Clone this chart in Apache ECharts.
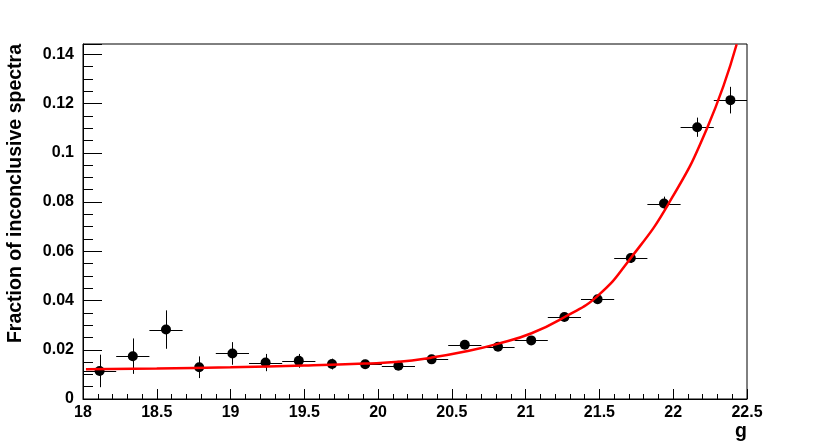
<!DOCTYPE html>
<html>
<head>
<meta charset="utf-8">
<script src="https://cdn.jsdelivr.net/npm/echarts@6/dist/echarts.min.js"></script>
<style>
html,body{margin:0;padding:0;background:#fff;}
#chart{width:830px;height:444px;}
</style>
</head>
<body>
<div id="chart"></div>
<script>
// Bin centers (g) and measured fraction of inconclusive spectra
const binCenters = [18.1125, 18.3375, 18.5625, 18.7875, 19.0125, 19.2375, 19.4625, 19.6875, 19.9125, 20.1375,
                    20.3625, 20.5875, 20.8125, 21.0375, 21.2625, 21.4875, 21.7125, 21.9375, 22.1625, 22.3875];
const fraction = [0.0114, 0.0174, 0.0282, 0.0129, 0.0185, 0.0148, 0.0155, 0.0142, 0.0141, 0.0135,
                  0.0161, 0.0220, 0.0212, 0.0238, 0.0333, 0.0405, 0.0573, 0.0794, 0.1104, 0.1214];
const fractionErr = [0.0066, 0.0072, 0.0078, 0.0044, 0.0046, 0.0035, 0.0028, 0.0022, 0.0018, 0.0016,
                     0.0016, 0.0016, 0.0016, 0.0016, 0.0018, 0.0018, 0.0020, 0.0028, 0.0039, 0.0054];
const binHalfWidth = [0.1125, 0.1125, 0.1125, 0.1125, 0.1125, 0.1125, 0.1125, 0.1125, 0.1125, 0.1125,
                      0.1125, 0.1125, 0.1125, 0.1125, 0.1125, 0.1125, 0.1125, 0.1125, 0.1125, 0.1125];
// Fit curve
const fitX = [18.02, 18.5, 19.0, 19.5, 19.91, 20.14, 20.36, 20.59, 20.81, 21.04, 21.27, 21.49, 21.71, 21.97, 22.23, 22.43];
const fitY = [0.0121, 0.0124, 0.0129, 0.0136, 0.0144, 0.0151, 0.0168, 0.0193, 0.0224, 0.0267, 0.0335, 0.0420, 0.0571, 0.0795, 0.1101, 0.1441];
// Axis settings
const xTitle = 'g';
const yTitle = 'Fraction of inconclusive spectra';

const FONT = '"Liberation Sans", Arial, Helvetica, sans-serif';

const errData = binCenters.map((x, i) => [x, fraction[i], binHalfWidth[i], fractionErr[i]]);
const ptData = binCenters.map((x, i) => [x, fraction[i]]);
const fitData = fitX.map((x, i) => [x, fitY[i]]);

const chart = echarts.init(document.getElementById('chart'), null, {renderer: 'canvas'});
chart.setOption({
  animation: false,
  backgroundColor: '#fff',
  grid: {left: 83, right: 83, top: 44, bottom: 45, show: true, borderColor: '#000', borderWidth: 1,
         backgroundColor: 'transparent', containLabel: false, outerBoundsMode: 'none'},
  xAxis: {
    type: 'value', min: 18, max: 22.5, interval: 0.5,
    axisLine: {show: true, onZero: false, lineStyle: {color: '#000', width: 1}},
    axisTick: {show: true, inside: true, length: 10, lineStyle: {color: '#000'}},
    minorTick: {show: true, splitNumber: 5, length: 5, lineStyle: {color: '#000'}},
    splitLine: {show: false},
    axisLabel: {color: '#000', fontFamily: FONT, fontWeight: 'bold', fontSize: 16, margin: 6},
  },
  yAxis: {
    type: 'value', min: 0, max: 0.1442, interval: 0.02,
    axisLine: {show: true, onZero: false, lineStyle: {color: '#000', width: 1}},
    axisTick: {show: true, inside: true, length: 19, lineStyle: {color: '#000'}},
    minorTick: {show: true, splitNumber: 4, length: 10, lineStyle: {color: '#000'}},
    splitLine: {show: false},
    axisLabel: {color: '#000', fontFamily: FONT, fontWeight: 'bold', fontSize: 16, margin: 9,
                showMaxLabel: false,
                formatter: v => String(Math.round(v * 100) / 100)},
  },
  graphic: [
    {type: 'text', x: 747, y: 432, style: {text: xTitle, font: 'bold 19.5px ' + FONT, fill: '#000',
      textAlign: 'right', textVerticalAlign: 'middle'}},
    {type: 'text', x: 16, y: 44, rotation: Math.PI / 2,
      style: {text: yTitle, font: 'bold 19.5px ' + FONT, fill: '#000', textAlign: 'right', textVerticalAlign: 'middle'}}
  ],
  series: [
    {
      type: 'custom', data: errData, z: 2, silent: true,
      renderItem: function (params, api) {
        const x = api.value(0), y = api.value(1), ex = api.value(2), ey = api.value(3);
        const l = api.coord([x - ex, y]), r = api.coord([x + ex, y]);
        const b = api.coord([x, y - ey]), t = api.coord([x, y + ey]);
        const yy = Math.round(l[1]) + 0.5, xx = Math.round(b[0]) + 0.5;
        return {type: 'group', children: [
          {type: 'line', shape: {x1: l[0], y1: yy, x2: r[0], y2: yy}, style: {stroke: '#000', lineWidth: 1}},
          {type: 'line', shape: {x1: xx, y1: b[1], x2: xx, y2: t[1]}, style: {stroke: '#000', lineWidth: 1}}
        ]};
      }
    },
    {type: 'scatter', data: ptData, symbol: 'circle', symbolSize: 10, itemStyle: {color: '#000', opacity: 1}, z: 3, silent: true},
    {type: 'line', data: fitData, smooth: 0.5, showSymbol: false, symbol: 'none', clip: true,
     lineStyle: {color: '#ff0000', width: 2.5}, z: 4, silent: true}
  ]
});
</script>
</body>
</html>
